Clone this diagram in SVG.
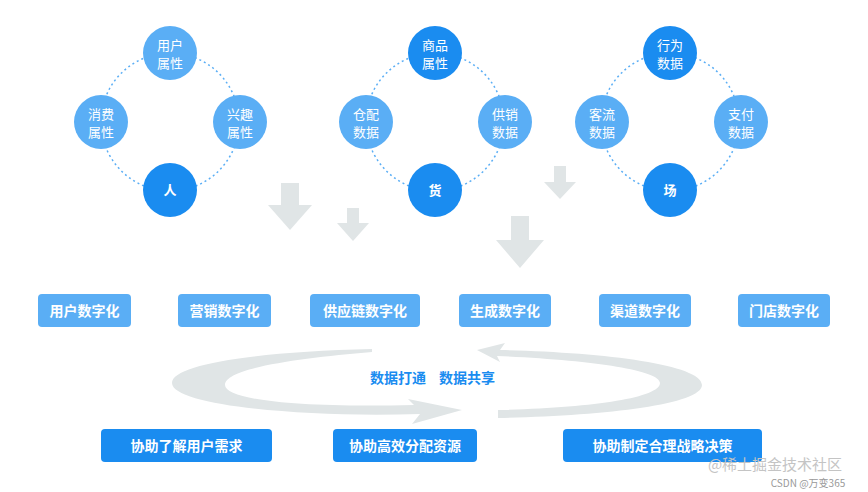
<svg xmlns="http://www.w3.org/2000/svg" width="868" height="492" viewBox="0 0 868 492">
<style>
text{font-family:"Noto Sans CJK SC","Liberation Sans",sans-serif;text-anchor:middle}
.l{fill:#5aaef5}.d{fill:#1a8cf0}
.ct{fill:#fff;font-size:13px}
.ring{fill:none;stroke:#5aaef5;stroke-width:1.5;stroke-dasharray:2 3}
.ar{fill:#e0e5e6}
.bt{fill:#fff;font-size:14px;font-weight:bold}
</style>
<rect width="868" height="492" fill="#fff"/>
<g id="rings"><circle class="ring" cx="170" cy="122" r="69"/><circle class="ring" cx="435" cy="122" r="69"/><circle class="ring" cx="670" cy="122" r="69"/></g>
<g id="n1"><circle class="l" cx="170" cy="53" r="27"/><text class="ct" x="170" y="50">用户</text><text class="ct" x="170" y="68">属性</text></g>
<g id="n2"><circle class="l" cx="101" cy="122" r="27"/><text class="ct" x="101" y="119">消费</text><text class="ct" x="101" y="137">属性</text></g>
<g id="n3"><circle class="l" cx="240" cy="122" r="27"/><text class="ct" x="240" y="119">兴趣</text><text class="ct" x="240" y="137">属性</text></g>
<g id="n4"><circle class="d" cx="170" cy="190" r="27"/><text class="ct" x="170" y="195" font-weight="bold">人</text></g>
<g id="n5"><circle class="d" cx="435" cy="53" r="27"/><text class="ct" x="435" y="50">商品</text><text class="ct" x="435" y="68">属性</text></g>
<g id="n6"><circle class="l" cx="366" cy="122" r="27"/><text class="ct" x="366" y="119">仓配</text><text class="ct" x="366" y="137">数据</text></g>
<g id="n7"><circle class="l" cx="505" cy="122" r="27"/><text class="ct" x="505" y="119">供销</text><text class="ct" x="505" y="137">数据</text></g>
<g id="n8"><circle class="d" cx="435" cy="190" r="27"/><text class="ct" x="435" y="195" font-weight="bold">货</text></g>
<g id="n9"><circle class="d" cx="670" cy="53" r="27"/><text class="ct" x="670" y="50">行为</text><text class="ct" x="670" y="68">数据</text></g>
<g id="n10"><circle class="l" cx="602" cy="122" r="27"/><text class="ct" x="602" y="119">客流</text><text class="ct" x="602" y="137">数据</text></g>
<g id="n11"><circle class="l" cx="741" cy="122" r="27"/><text class="ct" x="741" y="119">支付</text><text class="ct" x="741" y="137">数据</text></g>
<g id="n12"><circle class="d" cx="670" cy="190" r="27"/><text class="ct" x="670" y="195" font-weight="bold">场</text></g>
<g id="arrows">
<path class="ar" d="M281,183h18v22h13l-22,25l-22,-25h13z"/>
<path class="ar" d="M347,208h12v15h10l-16,18l-16,-18h10z"/>
<path class="ar" d="M511,216h18v24h15l-24,28l-24,-28h15z"/>
<path class="ar" d="M554,166h12v16h10l-16,17l-16,-17h10z"/>
<path class="ar" d="M372,349C250,352 172,365 172,383C172,405 300,418 420,414L412,424L462,410L408,399L414,405C300,408 225,400 225,385C225,368 300,358 372,352Z"/>
<path class="ar" d="M498,418C600,416 702,405 702,385C702,364 600,352 500,350L505,343L477,350L500,362L497,356C590,360 660,370 660,383C660,398 590,408 498,410Z"/>
</g>
<g id="b1"><rect class="l" x="38" y="294" width="93" height="33" rx="4"/><text class="bt" x="84.5" y="316">用户数字化</text></g>
<g id="b2"><rect class="l" x="178" y="294" width="93" height="33" rx="4"/><text class="bt" x="224.5" y="316">营销数字化</text></g>
<g id="b3"><rect class="l" x="310" y="294" width="110" height="33" rx="4"/><text class="bt" x="365" y="316">供应链数字化</text></g>
<g id="b4"><rect class="l" x="459" y="294" width="92" height="33" rx="4"/><text class="bt" x="505" y="316">生成数字化</text></g>
<g id="b5"><rect class="l" x="599" y="294" width="92" height="33" rx="4"/><text class="bt" x="645" y="316">渠道数字化</text></g>
<g id="b6"><rect class="l" x="738" y="294" width="92" height="33" rx="4"/><text class="bt" x="784" y="316">门店数字化</text></g>
<text x="398" y="383" fill="#1a8cf0" font-size="14" font-weight="bold">数据打通</text>
<text x="467" y="383" fill="#1a8cf0" font-size="14" font-weight="bold">数据共享</text>
<g id="c1"><rect class="d" x="101" y="429" width="171" height="33" rx="4"/><text class="bt" x="186.5" y="451">协助了解用户需求</text></g>
<g id="c2"><rect class="d" x="333" y="429" width="144" height="33" rx="4"/><text class="bt" x="405" y="451">协助高效分配资源</text></g>
<g id="c3"><rect class="d" x="563" y="429" width="199" height="33" rx="4"/><text class="bt" x="662.5" y="451">协助制定合理战略决策</text></g>
<text x="775" y="470" fill="#c4c4c4" font-size="15">@稀土掘金技术社区</text>
<text x="808" y="487" fill="#999" font-size="10">CSDN @万变365</text>
</svg>
